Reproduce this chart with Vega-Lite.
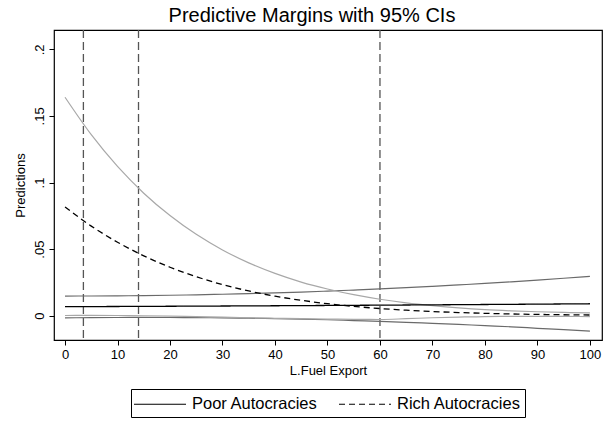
{
  "$schema": "https://vega.github.io/schema/vega-lite/v6.json",
  "width": 548,
  "height": 310,
  "autosize": {"type": "none"},
  "padding": {"left": 54, "top": 30, "right": 2, "bottom": 83},
  "background": "white",
  "title": {"text": "Predictive Margins with 95% CIs", "fontSize": 20, "fontWeight": "normal", "font": "Liberation Sans", "color": "#000", "anchor": "middle", "frame": "bounds", "offset": 3, "dx": 4},
  "config": {
    "font": "Liberation Sans",
    "view": {"stroke": "#000", "strokeWidth": 1.2},
    "axis": {"grid": false, "domain": false, "tickColor": "#000", "tickSize": 5, "labelColor": "#000", "titleColor": "#000", "labelFontSize": 13, "titleFontSize": 13, "titleFontWeight": "normal", "labelFont": "Liberation Sans", "titleFont": "Liberation Sans"},
    "legend": {"layout": {"bottom": {"anchor": "middle"}}}
  },
  "datasets": {
    "margins": [
      {"x": 0, "Poor Autocracies": 0.0068, "poorLo": -0.0016, "poorHi": 0.0148, "Rich Autocracies": 0.0817, "richLo": 0.0002, "richHi": 0.164},
      {"x": 5, "Poor Autocracies": 0.00688, "poorLo": -0.0014, "poorHi": 0.01484, "Rich Autocracies": 0.0673, "richLo": 0.0003, "richHi": 0.1359},
      {"x": 10, "Poor Autocracies": 0.00696, "poorLo": -0.0013, "poorHi": 0.01495, "Rich Autocracies": 0.0552, "richLo": 0.0002, "richHi": 0.1121},
      {"x": 15, "Poor Autocracies": 0.00704, "poorLo": -0.0012, "poorHi": 0.01513, "Rich Autocracies": 0.045, "richLo": 0.0, "richHi": 0.092},
      {"x": 20, "Poor Autocracies": 0.00713, "poorLo": -0.0013, "poorHi": 0.01539, "Rich Autocracies": 0.0364, "richLo": -0.0003, "richHi": 0.0752},
      {"x": 25, "Poor Autocracies": 0.00722, "poorLo": -0.0014, "poorHi": 0.01573, "Rich Autocracies": 0.0293, "richLo": -0.0007, "richHi": 0.0611},
      {"x": 30, "Poor Autocracies": 0.00731, "poorLo": -0.0016, "poorHi": 0.01613, "Rich Autocracies": 0.0234, "richLo": -0.0011, "richHi": 0.0494},
      {"x": 35, "Poor Autocracies": 0.00741, "poorLo": -0.0018, "poorHi": 0.01661, "Rich Autocracies": 0.0186, "richLo": -0.0015, "richHi": 0.0397},
      {"x": 40, "Poor Autocracies": 0.00751, "poorLo": -0.0022, "poorHi": 0.01717, "Rich Autocracies": 0.0147, "richLo": -0.0019, "richHi": 0.0318},
      {"x": 45, "Poor Autocracies": 0.00762, "poorLo": -0.0026, "poorHi": 0.0178, "Rich Autocracies": 0.0116, "richLo": -0.0022, "richHi": 0.0253},
      {"x": 50, "Poor Autocracies": 0.00773, "poorLo": -0.003, "poorHi": 0.0185, "Rich Autocracies": 0.00905, "richLo": -0.0025, "richHi": 0.0201},
      {"x": 55, "Poor Autocracies": 0.00784, "poorLo": -0.0036, "poorHi": 0.01928, "Rich Autocracies": 0.00703, "richLo": -0.0027, "richHi": 0.0158},
      {"x": 60, "Poor Autocracies": 0.00795, "poorLo": -0.0042, "poorHi": 0.02013, "Rich Autocracies": 0.00542, "richLo": -0.0028, "richHi": 0.0124},
      {"x": 65, "Poor Autocracies": 0.00807, "poorLo": -0.0049, "poorHi": 0.02105, "Rich Autocracies": 0.00416, "richLo": -0.0022, "richHi": 0.0097},
      {"x": 70, "Poor Autocracies": 0.00819, "poorLo": -0.0057, "poorHi": 0.02205, "Rich Autocracies": 0.00317, "richLo": -0.0015, "richHi": 0.0076},
      {"x": 75, "Poor Autocracies": 0.00832, "poorLo": -0.0065, "poorHi": 0.02313, "Rich Autocracies": 0.00241, "richLo": -0.001, "richHi": 0.0059},
      {"x": 80, "Poor Autocracies": 0.00845, "poorLo": -0.0074, "poorHi": 0.02427, "Rich Autocracies": 0.00181, "richLo": -0.0006, "richHi": 0.0046},
      {"x": 85, "Poor Autocracies": 0.00858, "poorLo": -0.0083, "poorHi": 0.02549, "Rich Autocracies": 0.00136, "richLo": -0.0005, "richHi": 0.0037},
      {"x": 90, "Poor Autocracies": 0.00872, "poorLo": -0.0094, "poorHi": 0.02679, "Rich Autocracies": 0.00101, "richLo": -0.0005, "richHi": 0.003},
      {"x": 95, "Poor Autocracies": 0.00886, "poorLo": -0.0104, "poorHi": 0.02816, "Rich Autocracies": 0.00075, "richLo": -0.0005, "richHi": 0.0025},
      {"x": 100, "Poor Autocracies": 0.009, "poorLo": -0.0116, "poorHi": 0.0296, "Rich Autocracies": 0.00055, "richLo": -0.0006, "richHi": 0.0021}
    ],
    "cuts": [{"x": 3.5}, {"x": 14}, {"x": 60}]
  },
  "layer": [
    {
      "data": {"name": "cuts"},
      "mark": {"type": "rule", "stroke": "#555555", "strokeWidth": 1.3, "strokeDash": [8, 4]},
      "encoding": {
        "x": {"field": "x", "type": "quantitative", "scale": {"domain": [-2.1, 102.3], "nice": false, "zero": false}}
      }
    },
    {
      "data": {"name": "margins"},
      "transform": [{"fold": ["poorLo", "poorHi"], "as": ["band", "v"]}],
      "mark": {"type": "line", "stroke": "#6a6a6a", "strokeWidth": 1.2, "interpolate": "monotone"},
      "encoding": {
        "x": {"field": "x", "type": "quantitative"},
        "y": {"field": "v", "type": "quantitative"},
        "detail": {"field": "band"}
      }
    },
    {
      "data": {"name": "margins"},
      "transform": [{"fold": ["richLo", "richHi"], "as": ["band", "v"]}],
      "mark": {"type": "line", "stroke": "#a8a8a8", "strokeWidth": 1.2, "interpolate": "monotone"},
      "encoding": {
        "x": {"field": "x", "type": "quantitative"},
        "y": {"field": "v", "type": "quantitative"},
        "detail": {"field": "band"}
      }
    },
    {
      "data": {"name": "margins"},
      "transform": [{"fold": ["Poor Autocracies", "Rich Autocracies"], "as": ["group", "v"]}],
      "mark": {"type": "line", "stroke": "#000", "strokeWidth": 1.3, "interpolate": "monotone"},
      "encoding": {
        "x": {"field": "x", "type": "quantitative", "title": "L.Fuel Export", "axis": {"values": [0, 10, 20, 30, 40, 50, 60, 70, 80, 90, 100], "labelPadding": 3, "titlePadding": 3}},
        "y": {"field": "v", "type": "quantitative", "title": "Predictions", "scale": {"domain": [-0.0182, 0.2145], "nice": false, "zero": false},
          "axis": {"values": [0, 0.05, 0.1, 0.15, 0.2], "labelAngle": 270, "labelAlign": "center", "labelBaseline": "bottom", "labelPadding": 3, "titlePadding": 6,
            "labelExpr": "datum.value == 0 ? '0' : replace(format(datum.value, '~g'), '0.', '.')"}},
        "strokeDash": {"field": "group", "type": "nominal",
          "scale": {"domain": ["Poor Autocracies", "Rich Autocracies"], "range": [[1, 0], [6, 4]]},
          "legend": {"title": null, "orient": "bottom", "direction": "horizontal", "symbolType": "M-2.6,0H2.6", "symbolSize": 400, "symbolOffset": 14, "symbolStrokeWidth": 1.2, "symbolStrokeColor": "#000",
            "labelFontSize": 16.5, "labelColor": "#000", "strokeColor": "#000", "padding": 4, "columnPadding": 18, "labelOffset": 21, "offset": 12}}
      }
    }
  ]
}
